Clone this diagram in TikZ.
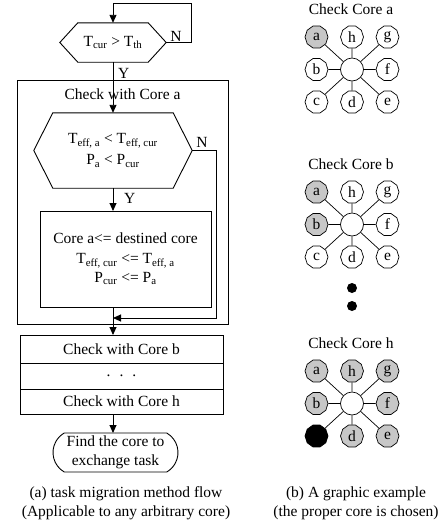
\documentclass[tikz,border=0pt]{standalone}
\usepackage{fontspec}
\setmainfont{Liberation Serif}
\usetikzlibrary{shapes.misc,shapes.geometric,arrows.meta,positioning,calc}
\newcommand{\fsize}{\fontsize{15.5}{19}\selectfont}
\tikzset{
  flow/.style={draw, line width=0.9pt, font=\fsize, align=center, inner sep=2pt, outer sep=0pt},
  hexa/.style={font=\fsize, align=center, inner sep=0pt},
  farrow/.style={-{Triangle[length=8pt,width=7pt]}, line width=0.9pt},
  tag/.style={font=\fsize, inner sep=1pt},
  core/.style={draw, regular polygon, regular polygon sides=10, minimum size=23pt, inner sep=0pt, line width=0.7pt, font=\fsize, fill=white},
  hub/.style={draw, circle, minimum size=23pt, inner sep=0pt, line width=0.7pt},
  blob/.style={circle, fill=black, minimum size=10pt, inner sep=0pt},
  shaded/.style={fill=black!22},
  chosen/.style={fill=black},
  corea/.style={}, coreb/.style={}, corec/.style={}, cored/.style={},
  coree/.style={}, coref/.style={}, coreg/.style={}, coreh/.style={}
}
\newcommand{\drawhex}[2]{% node name, slant
  \draw[line width=0.9pt] (#1.west) -- ([xshift=#2]#1.north west) -- ([xshift=-#2]#1.north east)
    -- (#1.east) -- ([xshift=-#2]#1.south east) -- ([xshift=#2]#1.south west) -- cycle;}
\newcommand{\coregraph}[2]{% prefix, y of top row
  \node[hub] (#1o) at (352,{#2+32.5}) {};
  \foreach \n/\i/\j in {a/-1/0,h/0/0,g/1/0,b/-1/1,f/1/1,c/-1/2,d/0/2,e/1/2}{
    \node[core, core\n] (#1\n) at ({352+35.5*\i},{#2+32.5*\j}) {\n};
    \draw[line width=0.7pt] (#1o) -- (#1\n);
  }}
\begin{document}
\begin{tikzpicture}[x=1pt,y=-1pt]
\useasboundingbox (0,0) rectangle (438,523);
% (a) flow
\node[hexa, minimum width=106pt, minimum height=39pt] (thr) at (113,42.5) {T\textsubscript{cur} > T\textsubscript{th}};
\drawhex{thr}{18pt}
\node[draw, line width=0.9pt, minimum width=211pt, minimum height=244pt] (grp) at (122.5,202) {};
\node[font=\fsize, below=6pt of grp.north] (grpt) {Check with Core a};
\node[hexa, minimum width=158pt, minimum height=75pt] (cmp) at (113,150.5) {T\textsubscript{eff, a} < T\textsubscript{eff, cur}\\[2pt] P\textsubscript{a} < P\textsubscript{cur}};
\drawhex{cmp}{19pt}
\node[flow, minimum width=171pt, minimum height=96pt] (upd) at (125.5,259) {Core a<= destined core\\[1pt] T\textsubscript{eff, cur} <= T\textsubscript{eff, a}\\ P\textsubscript{cur} <= P\textsubscript{a}};
\node[flow, minimum width=203pt, minimum height=28pt] (ckb) at (121.5,349) {Check with Core b};
\node[flow, minimum width=203pt, minimum height=26pt, below=0pt of ckb] (dots) {.\hspace{9pt}.\hspace{9pt}.};
\node[flow, minimum width=203pt, minimum height=25pt, below=0pt of dots] (ckh) {Check with Core h};
\node[flow, rounded rectangle, rounded rectangle arc length=120, minimum width=127pt, minimum height=39pt, inner sep=1pt] (fin) at (115.5,452.5) {Find the core to\\exchange task};
\coordinate (mrg) at (113,318);
\draw[farrow] (thr.east) -- ++(25,0) |- ([yshift=19pt]thr.north) -- (thr.north);
\node[tag, above right=0pt and 3pt of thr.east] {N};
\draw[farrow] (thr.south) -- (cmp.north);
\node[tag, below right=5pt and 4pt of thr.south] {Y};
\draw[farrow] (cmp.south) -- (cmp.south |- upd.north);
\node[tag, below right=4pt and 10pt of cmp.south] {Y};
\draw[farrow] (cmp.east) -- ++(24,0) |- (mrg);
\node[tag, above right=2pt and 3pt of cmp.east] {N};
\draw[farrow] (cmp.south |- upd.south) -- (cmp.south |- ckb.north);
\draw[farrow] (cmp.south |- ckh.south) -- (cmp.south |- fin.north);
\node[font=\fsize, align=center, inner sep=0pt] (capa) at (126,503) {(a) task migration method flow\\(Applicable to any arbitrary core)};
% (b) graphs
\node[font=\fsize, anchor=base] (tga) at (351,14.5) {Check Core a};
\begin{scope}[corea/.style=shaded]
  \coregraph{ga}{37}
\end{scope}
\node[font=\fsize, anchor=base] (tgb) at (351,169) {Check Core b};
\begin{scope}[corea/.style=shaded, coreb/.style=shaded]
  \coregraph{gb}{192}
\end{scope}
\node[blob] (d1) at (352,288) {};
\node[blob] (d2) at (352,306) {};
\node[font=\fsize, anchor=base] (tgh) at (351,348) {Check Core h};
\begin{scope}[corea/.style=shaded, coreb/.style=shaded, corec/.style=chosen, cored/.style=shaded,
    coree/.style=shaded, coref/.style=shaded, coreg/.style=shaded, coreh/.style=shaded]
  \coregraph{gh}{371}
\end{scope}
\node[font=\fsize, align=center, inner sep=0pt] (capb) at (356,503) {(b) A graphic example\\(the proper core is chosen)};
\end{tikzpicture}
\end{document}
